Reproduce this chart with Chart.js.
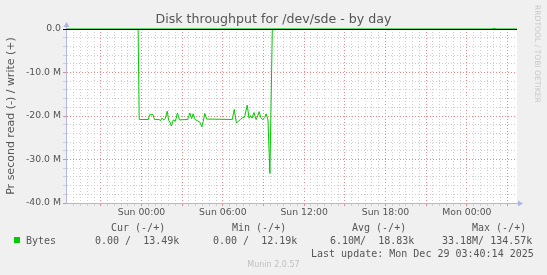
<!DOCTYPE html>
<html>
<head>
<meta charset="utf-8">
<script src="https://cdn.jsdelivr.net/npm/chart.js@4/dist/chart.umd.min.js"></script>
<style>
  html, body { margin: 0; padding: 0; background: #f0f0f0; }
  #wrap { position: relative; width: 547px; height: 275px; overflow: hidden; }
  canvas { position: absolute; left: 0; top: 0; }
  .t { position: absolute; white-space: pre; color: #555; }
  .mono { font-family: "DejaVu Sans Mono", monospace; font-size: 10px; line-height: 12px; }
  #title { left: 0; width: 547px; top: 11px; text-align: center; font-family: "DejaVu Sans", sans-serif; font-size: 12.6px; line-height: 16px; }
  #rrd { left: 533px; top: 5px; font-family: "DejaVu Sans", sans-serif; font-size: 7.6px; color: #c8c8c8; writing-mode: vertical-rl; line-height: 9px; }
  #munin { left: 0; width: 547px; text-align: center; top: 260px; font-family: "DejaVu Sans", sans-serif; font-size: 8px; color: #c0c0c0; line-height: 10px; }
  #sw { position: absolute; left: 14px; top: 237px; width: 6px; height: 6px; background: #00cc00; }
</style>
</head>
<body>
<div id="wrap">
  <canvas id="c" width="547" height="275"></canvas>
  <div class="t" id="title">Disk throughput for /dev/sde - by day</div>
  <div class="t" id="rrd">RRDTOOL / TOBI OETIKER</div>
  <div id="sw"></div>
  <div class="t mono" style="left:111px;top:222px">Cur (-/+)</div>
  <div class="t mono" style="left:232px;top:222px">Min (-/+)</div>
  <div class="t mono" style="left:352px;top:222px">Avg (-/+)</div>
  <div class="t mono" style="left:472px;top:222px">Max (-/+)</div>
  <div class="t mono" style="left:26px;top:235px">Bytes</div>
  <div class="t mono" style="left:95px;top:235px">0.00 /  13.49k</div>
  <div class="t mono" style="left:213px;top:235px">0.00 /  12.19k</div>
  <div class="t mono" style="left:330px;top:235px">6.10M/  18.83k</div>
  <div class="t mono" style="left:442px;top:235px">33.18M/ 134.57k</div>
  <div class="t mono" style="left:311px;top:248px">Last update: Mon Dec 29 03:40:14 2025</div>
  <div class="t" id="munin">Munin 2.0.57</div>
</div>
<script>
// ---- data (hours relative to Sun 00:00) ----
const xMinHour = -5.57;
const xMaxHour = 27.7;

const readHours = [-5.57, -0.25, -0.17, 0.5, 0.6, 0.85, 0.95, 1.3, 1.4, 1.5, 1.65, 1.75, 1.9, 2.0, 2.1, 2.2, 2.35, 2.5, 2.65, 2.8,
  3.4, 3.57, 3.7, 3.81, 3.95, 4.3, 4.45, 4.55, 4.67, 4.8, 6.7, 6.84, 7.0, 7.15, 7.3, 7.45, 7.6, 7.8, 7.93, 8.05,
  8.15, 8.3, 8.45, 8.55, 8.68, 8.8, 8.95, 9.1, 9.2, 9.33, 9.47, 9.65, 27.7];
const readMBps = [0, 0, 20.8, 20.8, 19.7, 19.7, 20.8, 20.8, 21.1, 20.5, 20.9, 20.6, 18.9, 21.0, 21.4, 22.3, 20.9, 21.2, 19.3, 20.9,
  20.8, 19.3, 20.6, 19.5, 20.8, 21.4, 22.5, 21.3, 19.4, 20.7, 20.8, 18.5, 21.6, 21.2, 20.8, 20.4, 20.3, 17.5, 20.5, 19.9,
  20.5, 19.2, 20.8, 20.2, 19.0, 20.4, 20.8, 20.3, 19.5, 20.9, 33.2, 0, 0];

const writeHours = [-5.57, 2, 9.6, 15, 20, 25.8, 26.0, 26.2, 27.7];
const writeKBps = [13.5, 18, 30, 15, 14, 13, 134.6, 13, 13.5];

const yTickValues = [0, -10, -20, -30, -40];
const yTickLabels = ['0.0', '-10.0 M', '-20.0 M', '-30.0 M', '-40.0 M'];
const xTickHours = [0, 6, 12, 18, 24];
const xTickLabels = ['Sun 00:00', 'Sun 06:00', 'Sun 12:00', 'Sun 18:00', 'Mon 00:00'];

const readPoints = readHours.map((h, i) => ({ x: h, y: -readMBps[i] }));
const writePoints = writeHours.map((h, i) => ({ x: h, y: writeKBps[i] / 1000 }));

const GREEN = '#00cc00';
const MAJOR = '#ee8888';
const MINOR = '#cfcfcf';
const AXIS = '#b4b4e0';
const TXT = '#555555';
const near = (a, b) => Math.abs(a - b) < 1e-6;

const bgPlugin = {
  id: 'bg',
  beforeDraw(chart) {
    const { ctx, chartArea: a } = chart;
    ctx.save();
    ctx.fillStyle = '#f0f0f0';
    ctx.fillRect(0, 0, chart.width, chart.height);
    ctx.fillStyle = '#ffffff';
    ctx.fillRect(a.left, a.top, a.right - a.left, a.bottom - a.top);
    ctx.restore();
  },
  afterDatasetsDraw(chart) {
    const { ctx, chartArea: a, scales } = chart;
    const y0 = Math.round(scales.y.getPixelForValue(0)) + 0.5;
    ctx.save();
    ctx.strokeStyle = '#000000';
    ctx.lineWidth = 1;
    ctx.beginPath();
    ctx.moveTo(a.left - 3, y0);
    ctx.lineTo(a.right, y0);
    ctx.stroke();
    // axis arrows
    ctx.fillStyle = AXIS;
    const xl = Math.round(a.left) + 0.5;
    ctx.beginPath();
    ctx.moveTo(xl - 3, a.top - 2);
    ctx.lineTo(xl + 3, a.top - 2);
    ctx.lineTo(xl, a.top - 7);
    ctx.closePath();
    ctx.fill();
    const yb = Math.round(a.bottom) + 0.5;
    ctx.beginPath();
    ctx.moveTo(a.right + 1, yb - 3);
    ctx.lineTo(a.right + 1, yb + 3);
    ctx.lineTo(a.right + 6, yb);
    ctx.closePath();
    ctx.fill();
    ctx.strokeStyle = AXIS;
    ctx.beginPath();
    ctx.moveTo(xl, a.top - 2);
    ctx.lineTo(xl, a.top);
    ctx.moveTo(a.right, yb);
    ctx.lineTo(a.right + 1, yb);
    ctx.stroke();
    ctx.restore();
  }
};

new Chart(document.getElementById('c'), {
  type: 'line',
  data: {
    datasets: [
      { label: 'read', data: readPoints, borderColor: GREEN, borderWidth: 1, pointRadius: 0, tension: 0, fill: false },
      { label: 'write', data: writePoints, borderColor: GREEN, borderWidth: 1, pointRadius: 0, tension: 0, fill: false, clip: 3 }
    ]
  },
  options: {
    responsive: false,
    animation: false,
    events: [],
    layout: { padding: { top: 29, right: 30, left: 0, bottom: 0 } },
    plugins: { legend: { display: false }, title: { display: false }, tooltip: { enabled: false } },
    scales: {
      x: {
        type: 'linear',
        min: xMinHour,
        max: xMaxHour,
        afterFit(s) { s.height = 72; },
        border: { color: AXIS, width: 1, dash: [1, 2] },
        grid: {
          color: (c) => {
            const v = c.tick ? c.tick.value : NaN;
            if (!near(v * 2, Math.round(v * 2))) return 'rgba(0,0,0,0)';
            return near(v / 3, Math.round(v / 3)) ? MAJOR : MINOR;
          },
          lineWidth: 1,
          drawTicks: true,
          tickLength: 3,
          tickBorderDash: [],
        },
        ticks: {
          stepSize: 0.5,
          autoSkip: false,
          maxRotation: 0,
          padding: 1,
          color: TXT,
          font: { family: 'DejaVu Sans', size: 9.3 },
          callback: (v) => {
            const i = xTickHours.findIndex((h) => near(h, v));
            return i >= 0 ? xTickLabels[i] : '';
          }
        }
      },
      y: {
        type: 'linear',
        min: -40,
        max: 0,
        afterFit(s) { s.width = 66; },
        border: { color: AXIS, width: 1, dash: [1, 2] },
        grid: {
          color: (c) => {
            const v = c.tick ? c.tick.value : NaN;
            return near(v / 10, Math.round(v / 10)) ? MAJOR : MINOR;
          },
          lineWidth: 1,
          drawTicks: true,
          tickLength: 3,
        },
        ticks: {
          stepSize: 2,
          autoSkip: false,
          padding: 2,
          color: TXT,
          font: { family: 'DejaVu Sans', size: 9.3 },
          callback: (v) => {
            const i = yTickValues.findIndex((t) => near(t, v));
            return i >= 0 ? yTickLabels[i] : '';
          }
        },
        title: {
          display: true,
          text: 'Pr second read (-) / write (+)',
          color: TXT,
          font: { family: 'DejaVu Sans', size: 11 },
          padding: { top: 4.5, bottom: 0 }
        }
      }
    }
  },
  plugins: [bgPlugin]
});
</script>
</body>
</html>
